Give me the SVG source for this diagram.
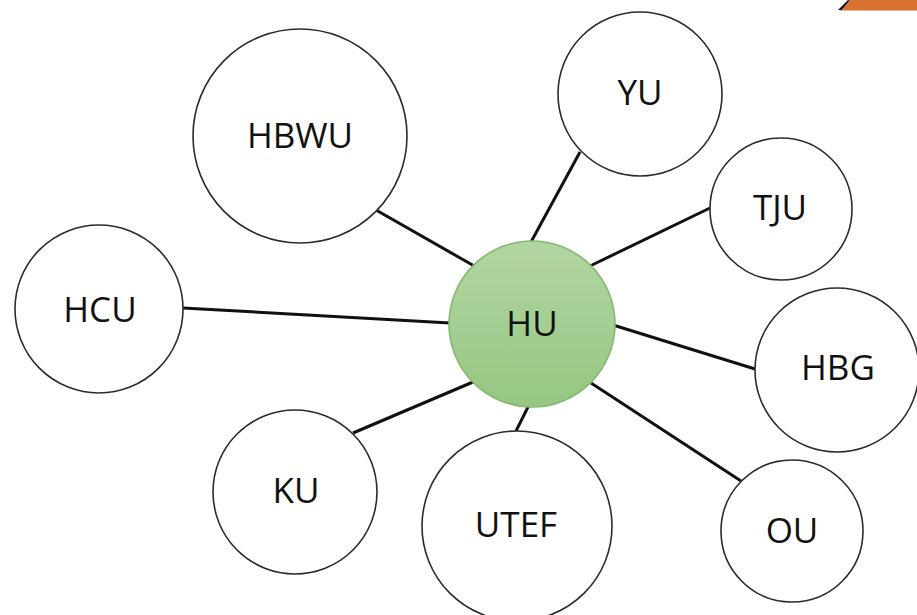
<svg xmlns="http://www.w3.org/2000/svg" width="917" height="615" viewBox="0 0 917 615">
  <defs>
    <linearGradient id="gHU" x1="0" y1="0" x2="0" y2="1">
      <stop offset="0" stop-color="#b2d6a2"/>
      <stop offset="1" stop-color="#97c682"/>
    </linearGradient>
    <style>
      .node { fill: #ffffff; stroke: #2b2b2b; stroke-width: 1.6; }
      .hub { fill: url(#gHU); stroke: #86b970; stroke-width: 1.6; }
      .lbl { font-family: "Open Sans", "Liberation Sans", sans-serif; font-size: 35px; fill: #111111; text-anchor: middle; }
      .edge { stroke: #111111; stroke-width: 3; fill: none; stroke-linecap: butt; }
    </style>
  </defs>
  <rect width="917" height="615" fill="#ffffff"/>
  <g id="corner">
    <polygon points="838,10 848,0 850,0 842,10" fill="#111111"/>
    <polygon points="842,10 850,0 917,0 917,10" fill="#d9722e"/>
    <line x1="840" y1="10.5" x2="917" y2="10.5" stroke="#e8b89a" stroke-width="1"/>
  </g>
  <g id="connectors">
    <line class="edge" x1="376" y1="210" x2="476" y2="267"/>
    <line class="edge" x1="580" y1="152" x2="531" y2="242"/>
    <line class="edge" x1="710" y1="208" x2="590" y2="266"/>
    <line class="edge" x1="183" y1="308" x2="450" y2="323"/>
    <line class="edge" x1="755" y1="369" x2="613" y2="325"/>
    <line class="edge" x1="741" y1="481" x2="591" y2="383"/>
    <line class="edge" x1="516" y1="431" x2="529" y2="405"/>
    <line class="edge" x1="353" y1="433" x2="473" y2="382"/>
  </g>
  <g id="HBWU">
    <circle class="node" cx="300" cy="136" r="107"/>
    <text class="lbl" x="300" y="148">HBWU</text>
  </g>
  <g id="YU">
    <circle class="node" cx="640" cy="94" r="82"/>
    <text class="lbl" x="640" y="105">YU</text>
  </g>
  <g id="TJU">
    <circle class="node" cx="781" cy="209" r="71"/>
    <text class="lbl" x="780" y="220">TJU</text>
  </g>
  <g id="HCU">
    <circle class="node" cx="99" cy="309" r="84"/>
    <text class="lbl" x="100" y="322">HCU</text>
  </g>
  <g id="HBG">
    <circle class="node" cx="837" cy="370" r="82"/>
    <text class="lbl" x="838" y="380">HBG</text>
  </g>
  <g id="KU">
    <circle class="node" cx="295" cy="492" r="82"/>
    <text class="lbl" x="296" y="503">KU</text>
  </g>
  <g id="UTEF">
    <circle class="node" cx="517" cy="526" r="95"/>
    <text class="lbl" x="516" y="537">UTEF</text>
  </g>
  <g id="OU">
    <circle class="node" cx="792" cy="531" r="71"/>
    <text class="lbl" x="792" y="543">OU</text>
  </g>
  <g id="HU">
    <circle class="hub" cx="532" cy="324" r="83"/>
    <text class="lbl" x="532" y="336">HU</text>
  </g>
</svg>
